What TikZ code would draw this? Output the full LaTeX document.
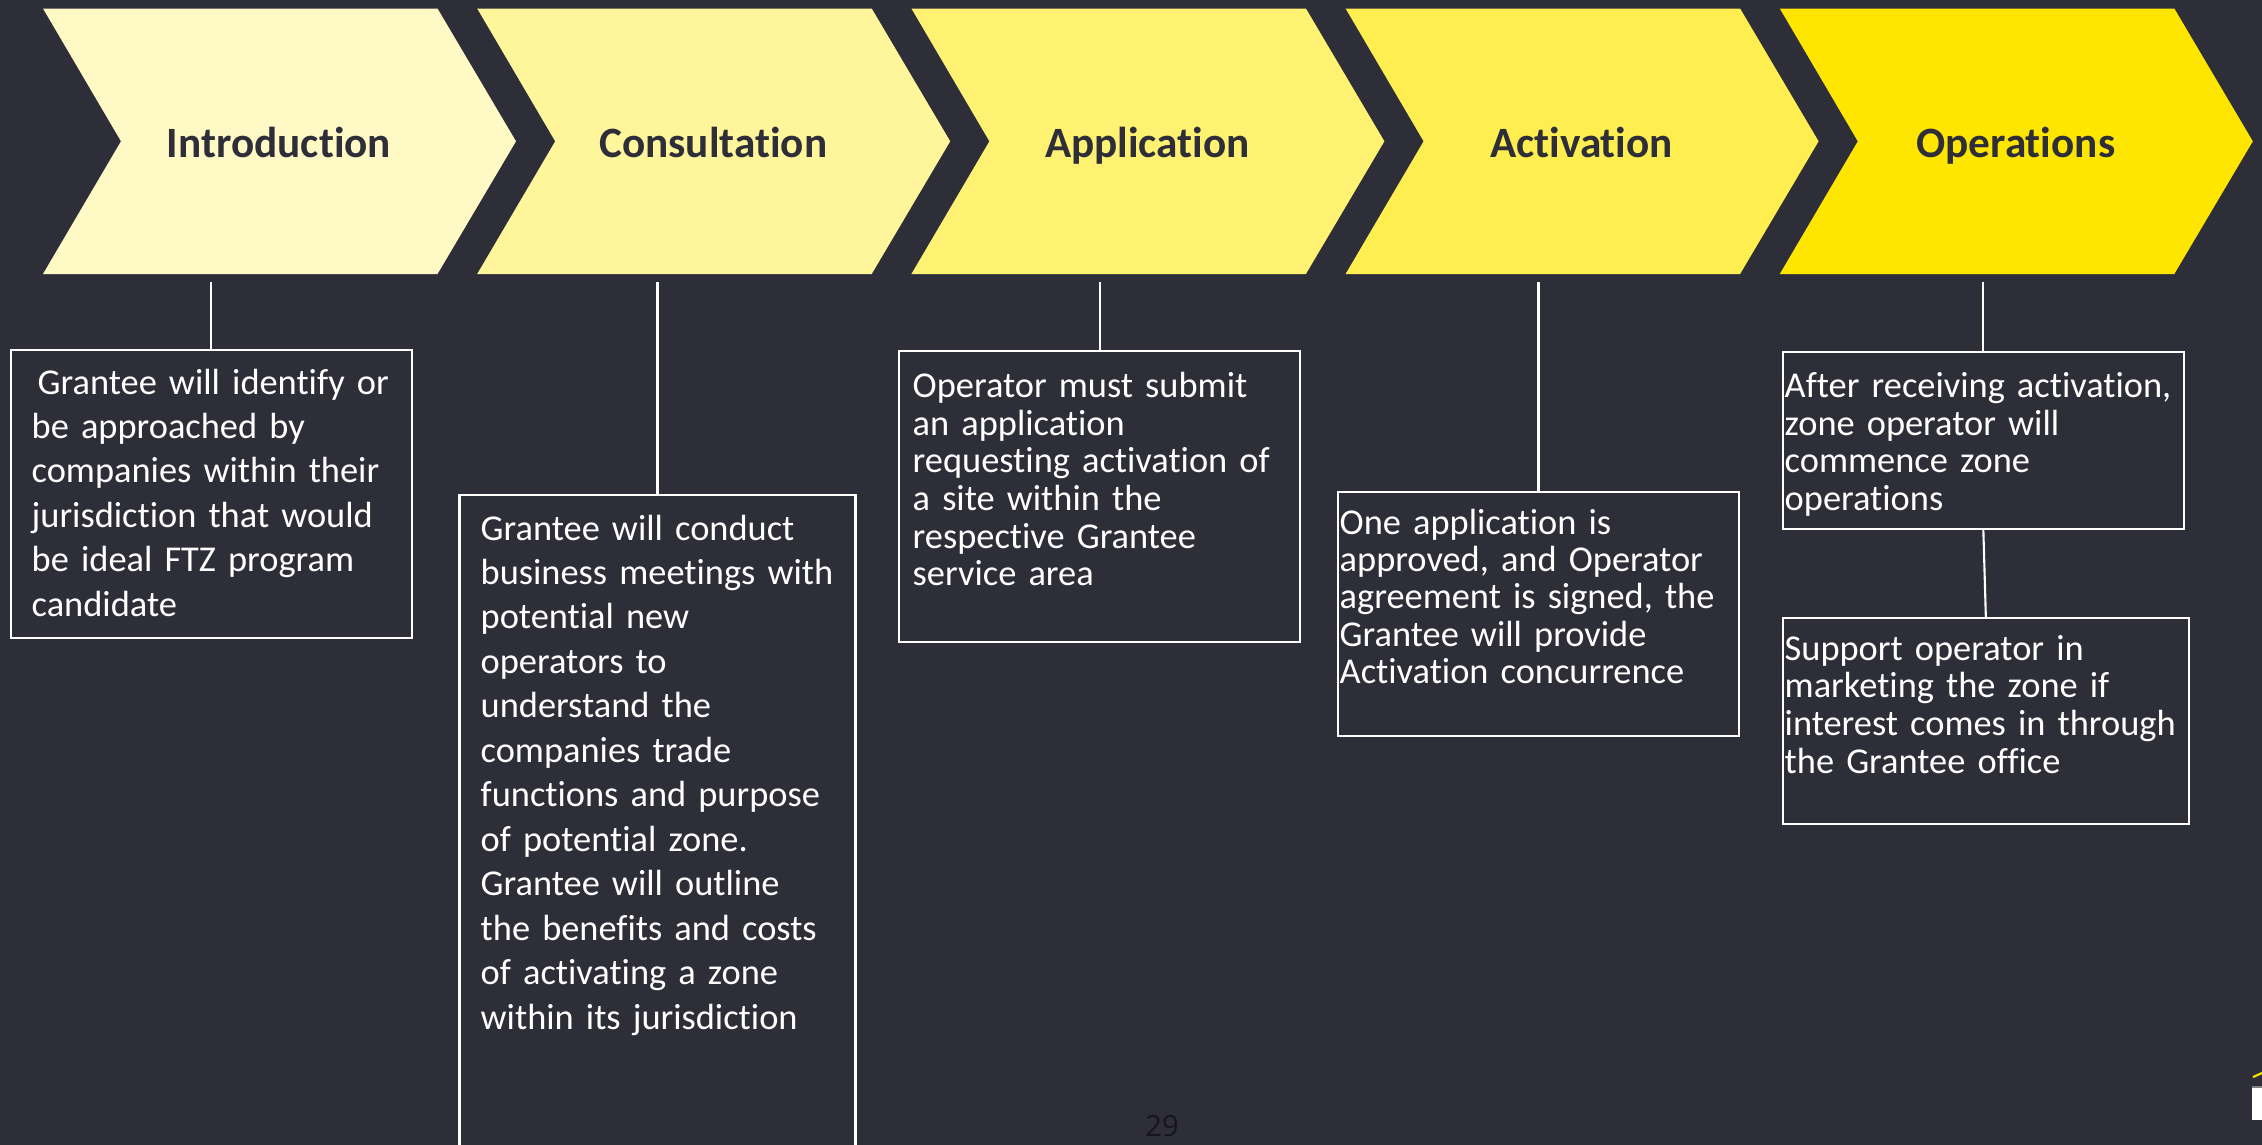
\documentclass[tikz,border=0pt]{standalone}
\usepackage{fontspec}
\setmainfont{Carlito}[Ligatures={NoCommon,NoRare,NoContextual}]
\newfontfamily\pnfont{Open Sans}
\usetikzlibrary{fit}
\definecolor{bg}{HTML}{2E2E38}
\definecolor{ca}{HTML}{FFF9C5}
\definecolor{cb}{HTML}{FFF59B}
\definecolor{cc}{HTML}{FFF172}
\definecolor{cd}{HTML}{FFEE4F}
\definecolor{ce}{HTML}{FFE600}
\definecolor{pnc}{HTML}{15151A}
\begin{document}
\begin{tikzpicture}[x=0.01cm,y=-0.01cm,
  boxst/.style={draw=white, line width=0.6pt, inner sep=0pt},
  link/.style={draw=white, line width=0.6pt},
  txt/.style={text=white, inner sep=0pt, anchor=base west, text width=5cm, align=left,
    font=\fontsize{10.35}{12.65}\selectfont},
  txtt/.style={txt, font=\fontsize{10.35}{10.69}\selectfont},
  titlest/.style={text=bg, inner sep=0pt, anchor=base, font=\fontsize{12.3}{14}\selectfont\bfseries}]
\useasboundingbox (0,0) rectangle (2262,1145);
\fill[bg] (0,0) rectangle (2262,1145);
\clip (0,0) rectangle (2262,1145);

% chevrons
\foreach \i/\col/\lab in {0/ca/Introduction,1/cb/Consultation,2/cc/Application,3/cd/Activation,4/ce/Operations}{
  \pgfmathsetmacro{\L}{43+434.2*\i}
  \fill[\col] (\L,8.5) -- ({\L+394.5},8.5) -- ({\L+473},141.3) -- ({\L+394.5},274)
     -- (\L,274) -- ({\L+78},141.3) -- cycle;
  \node[titlest] (title\i) at ({\L+236},157) {\lab};
}

\coordinate (top) at (0,282);

% boxes
\coordinate (b1a) at (11,350);     \coordinate (b1b) at (411.7,638);
\coordinate (b2a) at (459.5,495);  \coordinate (b2b) at (855.5,1160);
\coordinate (b3a) at (899,351);    \coordinate (b3b) at (1300.3,641.7);
\coordinate (b4a) at (1338,492);   \coordinate (b4b) at (1739,735.7);
\coordinate (b5a) at (1782.7,352); \coordinate (b5b) at (2184,529);
\coordinate (b6a) at (1782.7,618); \coordinate (b6b) at (2189,824);

\node[boxst, fit=(b1a)(b1b)] (box1) {};
\node[boxst, fit=(b2a)(b2b)] (box2) {};
\node[boxst, fit=(b3a)(b3b)] (box3) {};
\node[boxst, fit=(b4a)(b4b)] (box4) {};
\node[boxst, fit=(b5a)(b5b)] (box5) {};
\node[boxst, fit=(b6a)(b6b)] (box6) {};

% connectors
\draw[link] (box1.north) -- (box1.north |- top);
\draw[link] (box2.north) -- (box2.north |- top);
\draw[link] (box3.north) -- (box3.north |- top);
\draw[link] (box4.north) -- (box4.north |- top);
\draw[link] (box5.north) -- (box5.north |- top);
\draw[link] (box5.south) -- (box6.north);

% texts
\node[txt] (txt1) at (31,394) {\hspace*{0.06cm}Grantee will identify or\\be approached by\\companies within their\\jurisdiction that would\\be ideal FTZ program\\candidate};
\node[txt] (txt2) at (480,540) {Grantee will conduct\\business meetings with\\potential new\\operators to\\understand the\\companies trade\\functions and purpose\\of potential zone.\\Grantee will outline\\the benefits and costs\\of activating a zone\\within its jurisdiction};
\node[txtt] (txt3) at (912,397.7) {Operator must submit\\an application\\requesting activation of\\a site within the\\respective Grantee\\service area};
\node[txtt, font=\fontsize{10.35}{10.63}\selectfont] (txt4) at (1339,534) {One application is\\approved, and Operator\\agreement is signed, the\\Grantee will provide\\Activation concurrence};
\node[txtt] (txt5) at (1784,397.7) {After receiving activation,\\zone operator will\\commence zone\\operations};
\node[txtt, font=\fontsize{10.35}{10.77}\selectfont] (txt6) at (1784,660) {Support operator in\\marketing the zone if\\interest comes in through\\the Grantee office};

% page number
\node[text=pnc, inner sep=0pt, anchor=base, font=\pnfont\fontsize{8.3}{10}\selectfont] (pageno) at (1162,1136) {29};

% cut-off logo fragments at bottom right
\fill[white] (2252,1087) rectangle (2262,1120);
\draw[gray, line width=0.4pt] (2252,1087) -- (2262,1087);
\draw[ce, line width=0.6pt] (2253,1077) -- (2262,1073);
\end{tikzpicture}
\end{document}
